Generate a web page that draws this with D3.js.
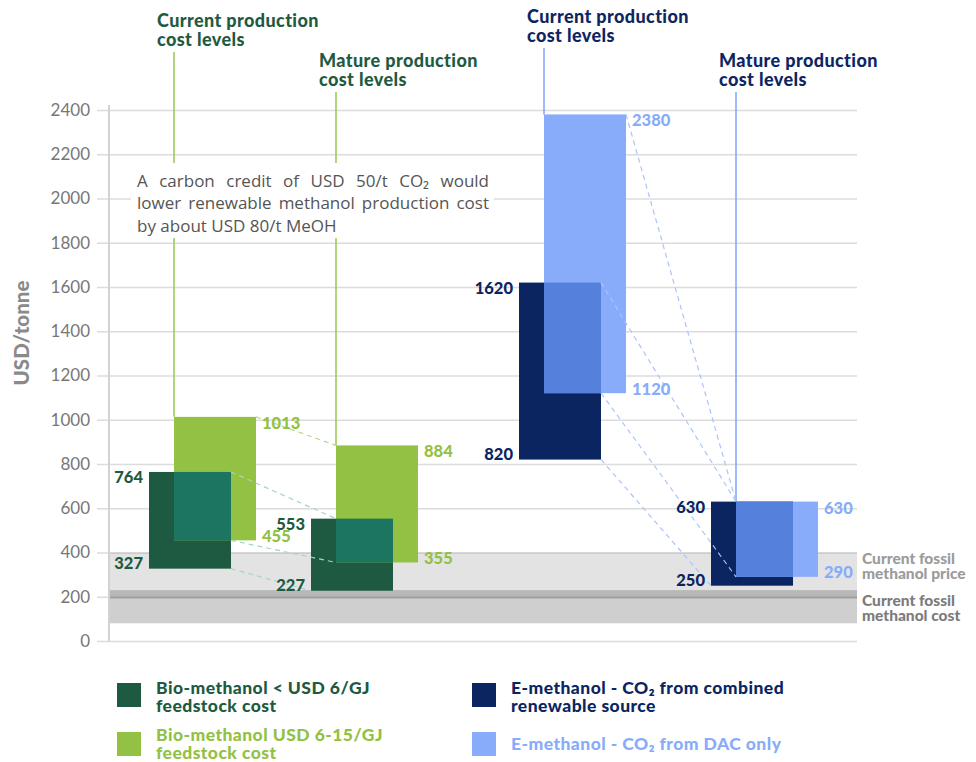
<!DOCTYPE html>
<html>
<head>
<meta charset="utf-8">
<script src="https://cdn.jsdelivr.net/npm/d3@7"></script>
<style>
  html, body { margin: 0; padding: 0; background: #fff; }
  svg { display: block; font-family: Lato, "Open Sans", sans-serif; }
</style>
</head>
<body>
<svg id="chart" width="976" height="762"></svg>
<script>
// ---- Data (USD per tonne of methanol) ----
const stages = ["Current production cost levels", "Mature production cost levels"];

// Bio-methanol, feedstock below USD 6/GJ
const bioLowMin = [327, 227];
const bioLowMax = [764, 553];
// Bio-methanol, feedstock USD 6-15/GJ
const bioHighMin = [455, 355];
const bioHighMax = [1013, 884];
// E-methanol, CO2 from combined renewable sources
const eCombMin = [820, 250];
const eCombMax = [1620, 630];
// E-methanol, CO2 from direct air capture only
const eDacMin = [1120, 290];
const eDacMax = [2380, 630];

// Fossil methanol reference ranges
const fossilPrice = [190, 400];
const fossilCost = [80, 230];

const yTicks = [0, 200, 400, 600, 800, 1000, 1200, 1400, 1600, 1800, 2000, 2200, 2400];
const yTitle = "USD/tonne";
const note = [
  "A carbon credit of USD 50/t CO\u2082 would",
  "lower renewable methanol production cost",
  "by about USD 80/t MeOH"
];

// ---- Styling ----
const C = {
  bioDark: "#1e5a41", bioLight: "#93c143", bioOverlap: "#1b7561",
  eDark: "#0b2561", eLight: "#88acfa", eOverlap: "#5581dc",
  grid: "#dcdcdc", tick: "#777", title: "#8a8a8a"
};

const families = [
  {
    key: "bio",
    lower: { min: bioLowMin, max: bioLowMax, color: C.bioDark, label: ["Bio-methanol < USD 6/GJ", "feedstock cost"] },
    upper: { min: bioHighMin, max: bioHighMax, color: C.bioLight, label: ["Bio-methanol USD 6-15/GJ", "feedstock cost"] },
    overlap: C.bioOverlap,
    headColor: "#1f5a42", leader: "#9dca5e",
    dashUpper: "#b5d88a", dashLower: "#a6d5c4",
    headTop: [52, 92]
  },
  {
    key: "e",
    lower: { min: eCombMin, max: eCombMax, color: C.eDark, label: ["E-methanol - CO\u2082 from combined", "renewable source"] },
    upper: { min: eDacMin, max: eDacMax, color: C.eLight, label: ["E-methanol - CO\u2082 from DAC only"] },
    overlap: C.eOverlap,
    headColor: "#0d2663", leader: "#86a9f6",
    dashUpper: "#aac4fb", dashLower: "#aac4fb",
    headTop: [48, 92]
  }
];

const svg = d3.select("#chart");

const y = d3.scaleLinear().domain([0, 2400]).range([641, 110]);
const slot = d3.scaleOrdinal()
  .domain(["bio-0", "bio-1", "e-0", "e-1"])
  .range([149, 311, 519, 711]);
const barW = 82, shift = 25;
const axisX = 109, gridLeft = 97, gridRight = 857;

// multi-line text as one <text> with stacked tspans
function multiline(sel, lines, x, y0, lh) {
  const t = sel.append("text").attr("x", x).attr("y", y0);
  lines.forEach((s, k) => {
    t.append("tspan").attr("x", x).attr("dy", k === 0 ? 0 : lh).text(s);
  });
  return t;
}

// ---- Gridlines and y axis ----
const yAxis = d3.axisLeft(y)
  .tickValues(yTicks)
  .tickSize(-(gridRight - gridLeft))
  .tickPadding(7)
  .tickFormat(d3.format("d"));

const gAxis = svg.append("g")
  .attr("transform", `translate(${gridLeft},0)`)
  .call(yAxis);
gAxis.select(".domain").remove();
gAxis.selectAll(".tick line").attr("stroke", C.grid).attr("stroke-width", 1.6);
gAxis.selectAll(".tick text")
  .attr("fill", C.tick)
  .attr("font-size", 17)
  .attr("font-family", "Lato, sans-serif");

// fossil reference bands
svg.append("rect")
  .attr("x", axisX).attr("width", gridRight - axisX)
  .attr("y", y(fossilPrice[1])).attr("height", y(fossilPrice[0]) - y(fossilPrice[1]))
  .attr("fill", "#000").attr("fill-opacity", 0.11);
svg.append("rect")
  .attr("x", axisX).attr("width", gridRight - axisX)
  .attr("y", y(fossilCost[1])).attr("height", y(fossilCost[0]) - y(fossilCost[1]))
  .attr("fill", "#000").attr("fill-opacity", 0.19);

svg.append("line")
  .attr("x1", axisX).attr("x2", axisX)
  .attr("y1", y(2400) - 5).attr("y2", y(0))
  .attr("stroke", "#d2d2d2").attr("stroke-width", 2);

svg.append("text")
  .attr("transform", `translate(29,333) rotate(-90)`)
  .attr("text-anchor", "middle")
  .attr("font-size", 20.5).attr("font-weight", 900)
  .attr("fill", C.title)
  .text(yTitle);

// ---- Stage headers with leader lines ----
families.forEach(f => {
  stages.forEach((s, i) => {
    const lx = slot(`${f.key}-${i}`) + shift;
    const top = f.headTop[i];
    svg.append("line")
      .attr("x1", lx).attr("x2", lx)
      .attr("y1", top).attr("y2", y(f.upper.max[i]))
      .attr("stroke", f.leader).attr("stroke-width", 1.6);
    const words = s.split(" ");
    const lines = [words.slice(0, 2).join(" "), words.slice(2).join(" ")];
    multiline(svg, lines, lx - 17, top - 25, 18.5)
      .attr("font-size", 18).attr("font-weight", 900)
      .attr("letter-spacing", 0.4)
      .attr("fill", f.headColor);
  });
});

// ---- Carbon credit note (justified block on a white panel) ----
svg.append("rect")
  .attr("x", 131).attr("y", 163).attr("width", 363).attr("height", 75)
  .attr("fill", "#fff");
const noteWidth = 352;
note.forEach((t, k) => {
  const tx = svg.append("text")
    .attr("x", 137).attr("y", 187 + k * 22.3)
    .attr("font-family", "'Open Sans', sans-serif")
    .attr("font-size", 17).attr("fill", "#555")
    .text(t);
  if (k < note.length - 1) {
    const natural = tx.node().getComputedTextLength();
    const gaps = t.split(" ").length - 1;
    tx.attr("word-spacing", (noteWidth - natural) / gaps);
  }
});

// ---- Bars ----
const barsG = svg.append("g");
families.forEach(f => {
  stages.forEach((s, i) => {
    const x0 = slot(`${f.key}-${i}`);
    barsG.append("rect")
      .attr("x", x0).attr("width", barW)
      .attr("y", y(f.lower.max[i])).attr("height", y(f.lower.min[i]) - y(f.lower.max[i]))
      .attr("fill", f.lower.color);
    barsG.append("rect")
      .attr("x", x0 + shift).attr("width", barW)
      .attr("y", y(f.upper.max[i])).attr("height", y(f.upper.min[i]) - y(f.upper.max[i]))
      .attr("fill", f.upper.color);
    const oTop = Math.min(f.lower.max[i], f.upper.max[i]);
    const oBot = Math.max(f.lower.min[i], f.upper.min[i]);
    if (oTop > oBot) {
      barsG.append("rect")
        .attr("x", x0 + shift).attr("width", barW - shift)
        .attr("y", y(oTop)).attr("height", y(oBot) - y(oTop))
        .attr("fill", f.overlap);
    }
  });
});

// ---- Dashed connectors from current to mature levels ----
const dashG = svg.append("g").attr("fill", "none").attr("stroke-width", 1.2).attr("stroke-dasharray", "5,4");
families.forEach(f => {
  const xa = slot(`${f.key}-0`), xb = slot(`${f.key}-1`);
  const oTop = i => Math.min(f.lower.max[i], f.upper.max[i]);
  const oBot = i => Math.max(f.lower.min[i], f.upper.min[i]);
  const segs = [
    [xa + shift + barW, f.upper.max[0], xb + shift, f.upper.max[1], f.dashUpper],
    [xa + barW, oTop(0), xb + shift, oTop(1), f.dashLower],
    [xa + barW, oBot(0), xb + shift, oBot(1), f.dashLower],
    [xa + barW, f.lower.min[0], xb, f.lower.min[1], f.dashLower]
  ];
  segs.forEach(([x1, v1, x2, v2, col]) => {
    dashG.append("line")
      .attr("x1", x1).attr("y1", y(v1))
      .attr("x2", x2).attr("y2", y(v2))
      .attr("stroke", col);
  });
});

// ---- Value labels ----
const labG = svg.append("g").attr("font-size", 16.5).attr("font-weight", 900);
families.forEach(f => {
  stages.forEach((s, i) => {
    const x0 = slot(`${f.key}-${i}`);
    labG.append("text").attr("x", x0 - 6).attr("y", y(f.lower.max[i]) + 11.5)
      .attr("text-anchor", "end").attr("fill", f.lower.color).text(f.lower.max[i]);
    labG.append("text").attr("x", x0 - 6).attr("y", y(f.lower.min[i]))
      .attr("text-anchor", "end").attr("fill", f.lower.color).text(f.lower.min[i]);
    labG.append("text").attr("x", x0 + shift + barW + 6).attr("y", y(f.upper.max[i]) + 12)
      .attr("fill", f.upper.color).text(f.upper.max[i]);
    labG.append("text").attr("x", x0 + shift + barW + 6).attr("y", y(f.upper.min[i]) + 1.5)
      .attr("fill", f.upper.color).text(f.upper.min[i]);
  });
});

// ---- Fossil band labels ----
[[["Current fossil", "methanol price"], "#9b9b9b", 564],
 [["Current fossil", "methanol cost"], "#7c7c7c", 606]].forEach(([lines, col, by]) => {
  multiline(svg, lines, 862, by, 14.5)
    .attr("font-size", 15.5).attr("font-weight", 900)
    .attr("fill", col);
});

// ---- Legend ----
const legendG = svg.append("g");
const legendItems = [
  { s: families[0].lower, x: 117, y: 683, base: 11 },
  { s: families[0].upper, x: 117, y: 732, base: 9 },
  { s: families[1].lower, x: 472, y: 683, base: 11 },
  { s: families[1].upper, x: 472, y: 732, base: 18 }
];
legendItems.forEach(({ s, x, y: ly, base }) => {
  legendG.append("rect").attr("x", x).attr("y", ly).attr("width", 24).attr("height", 24).attr("fill", s.color);
  multiline(legendG, s.label, x + 39, ly + base, 17.5)
    .attr("font-size", 17.5).attr("font-weight", 900)
    .attr("letter-spacing", 0.45)
    .attr("fill", s.color);
});
</script>
</body>
</html>
